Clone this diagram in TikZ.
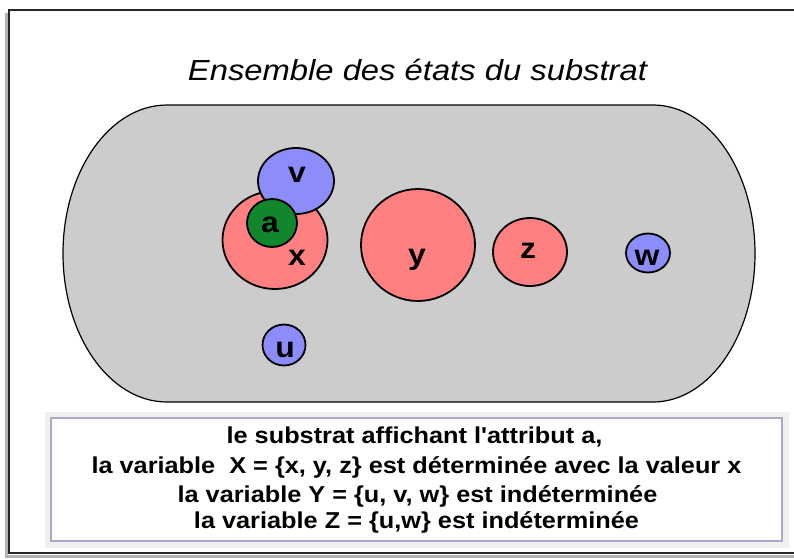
\documentclass[tikz,border=0pt]{standalone}
\usepackage{fontspec}
\newfontfamily\titlefont{Liberation Sans}[FakeStretch=1.13]
\newfontfamily\boxfont{Liberation Sans}[FakeStretch=1.1, Ligatures=TeXOff]
\usepackage{tikz}
\usetikzlibrary{
  positioning,
  shapes.geometric
}
\definecolor{blobred}{HTML}{FF8080}
\definecolor{blobblue}{HTML}{8C8CFA}
\definecolor{blobgreen}{HTML}{11862C}
\definecolor{stadgray}{HTML}{CCCCCC}
\definecolor{boxline}{HTML}{A9A9C8}

\begin{document}
\begin{tikzpicture}[x=1pt, y=-1pt,
    blob/.style={ellipse, draw=black, line width=1.8pt, inner sep=0pt},
    lbl/.style={anchor=base, font=\boxfont\bfseries\fontsize{29}{29}\selectfont},
    txt/.style={anchor=base, font=\boxfont\bfseries\fontsize{23}{23}\selectfont}]
      \useasboundingbox (0,0) rectangle (794,558);

      % Frame
      \draw[line width=3pt, black!30] (6,13) -- (6,556) -- (800,556);
      \draw[line width=2pt, black!85] (800,10) -- (9,10) -- (9,553) -- (800,553);

      % Title
      \node[anchor=base, font=\titlefont\itshape\fontsize{29}{29}\selectfont] (title) at (417.5,80) {Ensemble des états du substrat};

      % The set of states
      \filldraw[fill=stadgray, draw=black, line width=1.2pt] (167,105) -- (653,105)
        arc[start angle=-90, end angle=90, x radius=102, y radius=148.5] -- (167,402)
        arc[start angle=90, end angle=270, x radius=104, y radius=148.5] -- cycle;

      % Values
      \foreach \name/\cx/\cy/\w/\h/\col in {x/275/240/105/98/blobred, v/296/181/76/66/blobblue,
          a/272/223/50/48/blobgreen, y/418/245/114/112/blobred, z/530/252/74/68/blobred,
          u/284/345/43/41/blobblue, w/648/253/44/39/blobblue} {
        \node[blob, fill=\col, minimum width=\w, minimum height=\h] (\name) at (\cx,\cy) {};
      }
      \foreach \name/\lx/\ly in {x/297/265, v/297/182, a/270/232, y/417/264, z/528/258, u/285/357, w/647/265} {
        \node[lbl] (l\name) at (\lx,\ly) {\name};
      }

      % Caption box
      \fill[black!6] (45,412) rectangle (789,548);
      \node[draw=boxline, line width=1.6pt, fill=white, inner sep=0pt,
        minimum width=731, minimum height=123] (box) at (416.5,479.5) {};
      \node[txt] (line1) at (414.5,443) {le substrat affichant l'attribut a,};
      \node[txt] (line2) at (416.5,473) {la variable\ \ X = \{x, y, z\} est déterminée avec la valeur x};
      \node[txt] (line3) at (417.5,502) {la variable Y = \{u, v, w\} est indéterminée};
      \node[txt] (line4) at (416.5,528) {la variable Z = \{u,w\} est indéterminée};
\end{tikzpicture}
\end{document}
